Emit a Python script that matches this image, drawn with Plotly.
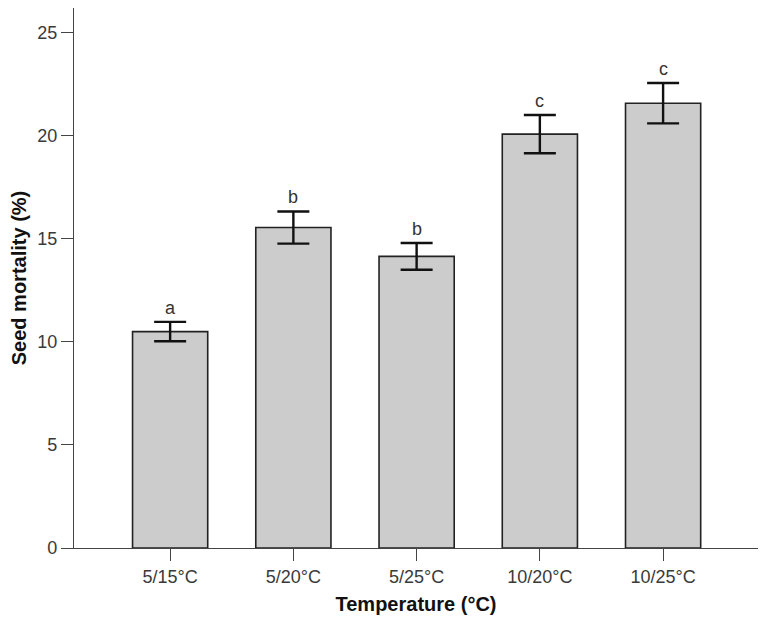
import plotly.graph_objects as go

categories = ["5/15°C", "5/20°C", "5/25°C", "10/20°C", "10/25°C"]
mortality = [10.5, 15.55, 14.15, 20.08, 21.58]
errors = [0.47, 0.78, 0.65, 0.93, 0.98]
letters = ["a", "b", "b", "c", "c"]
y_ticks = [0, 5, 10, 15, 20, 25]

x_idx = list(range(len(categories)))
FONT = "Liberation Sans, Arial, sans-serif"

fig = go.Figure()
fig.add_trace(go.Bar(
    x=x_idx, y=mortality, width=0.61,
    marker=dict(color="#cccccc", line=dict(color="#222222", width=1.6)),
    error_y=dict(type="data", array=errors, visible=True, color="#111111",
                 thickness=2.4, width=16),
    showlegend=False, hoverinfo="skip",
))

for xi, m, e, lab in zip(x_idx, mortality, errors, letters):
    fig.add_annotation(x=xi, y=m + e, text=lab, showarrow=False,
                       yanchor="bottom", yshift=2,
                       font=dict(family=FONT, size=18, color="#333333"))

fig.update_layout(
    width=750, height=609,
    margin=dict(l=66, r=0, t=0, b=69),
    plot_bgcolor="white", paper_bgcolor="white",
    font=dict(family=FONT, size=18, color="#333333"),
    xaxis=dict(
        tickmode="array", tickvals=x_idx, ticktext=categories,
        range=[-0.78, 4.77], automargin=False,
        showline=True, linecolor="#444444", linewidth=1.3,
        ticks="outside", ticklen=12, tickwidth=1.3, tickcolor="#444444",
        showgrid=False, zeroline=False,
        title=dict(text="<b>Temperature (°C)</b>", standoff=11,
                   font=dict(family=FONT, size=20, color="#111111")),
        tickfont=dict(size=18, color="#3a3a3a"),
    ),
    yaxis=dict(
        range=[0, 26.2], tickvals=y_ticks, automargin=False,
        showline=True, linecolor="#444444", linewidth=1.3,
        ticks="outside", ticklen=12, tickwidth=1.3, tickcolor="#444444",
        showgrid=False, zeroline=False,
        title=dict(text="<b>Seed mortality (%)</b>", standoff=8,
                   font=dict(family=FONT, size=20, color="#111111")),
        tickfont=dict(size=18, color="#3a3a3a"),
    ),
)

fig.write_html("out.html")
